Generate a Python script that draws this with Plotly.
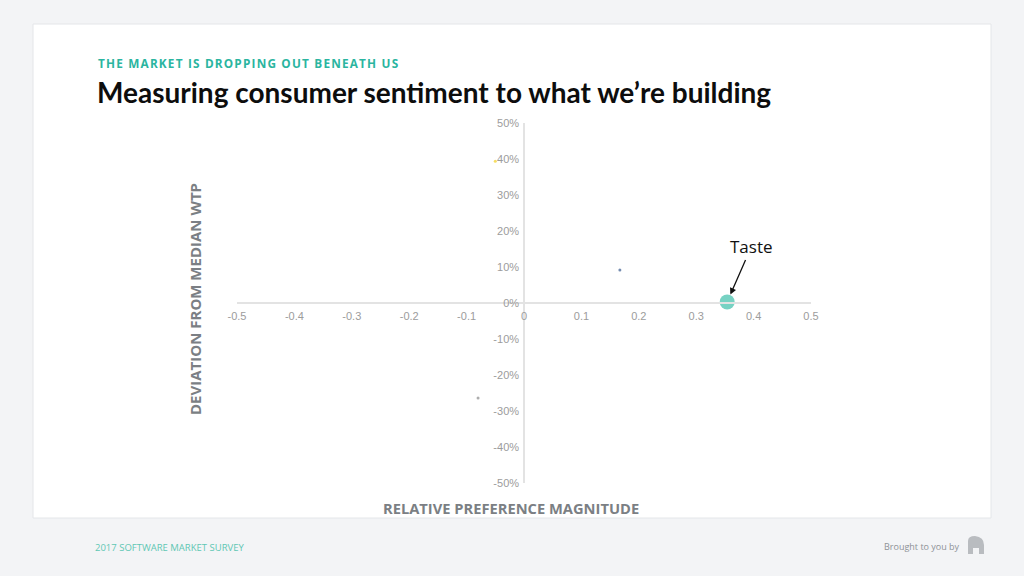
import plotly.graph_objects as go

# ---- data ----
labels = ["", "", "", "Taste"]
x_vals = [-0.05, 0.167, -0.08, 0.354]
y_vals = [0.394, 0.092, -0.264, 0.003]
colors = ["#f2cf1d", "#3b5b8e", "#8a8a8a", "#3dbfa9"]
sizes = [3, 3, 3, 15]

x_ticks = [-0.5, -0.4, -0.3, -0.2, -0.1, 0, 0.1, 0.2, 0.3, 0.4, 0.5]
x_tick_text = ["-0.5", "-0.4", "-0.3", "-0.2", "-0.1", "0", "0.1", "0.2", "0.3", "0.4", "0.5"]
y_ticks = [0.5, 0.4, 0.3, 0.2, 0.1, 0, -0.1, -0.2, -0.3, -0.4, -0.5]
y_tick_text = ["50%", "40%", "30%", "20%", "10%", "0%", "-10%", "-20%", "-30%", "-40%", "-50%"]

W, H = 1024, 576
L, R, T, B = 237, 811, 123, 483


def px(x):
    return (x - L) / (R - L)


def py(y):
    return (B - y) / (B - T)


def spaced(s):
    return "\u200a".join(s)


fig = go.Figure()
fig.add_trace(go.Scatter(
    x=x_vals, y=y_vals, mode="markers",
    marker=dict(color=colors, size=sizes, line=dict(width=0)),
    hoverinfo="skip", showlegend=False,
))

axis_font = dict(family="Liberation Sans, Arial, sans-serif", size=11, color="#9c9c9c")
fig.update_xaxes(
    range=[-0.5, 0.5], tickvals=x_ticks, ticktext=x_tick_text,
    anchor="free", position=0.5, showline=True, linecolor="#e3e3e3", linewidth=1.5,
    showgrid=False, zeroline=False, ticks="", tickfont=axis_font, ticklabelstandoff=3,
)
fig.update_yaxes(
    range=[-0.5, 0.5], tickvals=y_ticks, ticktext=y_tick_text,
    anchor="free", position=0.5, showline=True, linecolor="#e3e3e3", linewidth=1.5,
    showgrid=False, zeroline=False, ticks="", tickfont=axis_font, ticklabelstandoff=2,
)

shapes = [
    dict(type="rect", xref="paper", yref="paper",
         x0=px(33), x1=px(991), y0=py(24), y1=py(518),
         fillcolor="#ffffff", line=dict(color="#e4e6e9", width=1), layer="below"),
    # logo
    dict(type="path", xref="paper", yref="paper",
         path=f"M {px(968)},{py(554)} L {px(968)},{py(541)} Q {px(968)},{py(536)} {px(975)},{py(536)} "
              f"Q {px(984)},{py(537)} {px(984)},{py(545)} L {px(984)},{py(554)} L {px(979)},{py(554)} "
              f"L {px(979)},{py(548)} L {px(973)},{py(548)} L {px(973)},{py(554)} Z",
         fillcolor="#b9bcc0", line=dict(width=0), layer="above"),
]

annotations = [
    dict(x=x_vals[3], y=y_vals[3], xref="x", yref="y", text=labels[3], showarrow=True,
         ax=24, ay=-55, arrowhead=2, arrowsize=1, arrowwidth=1.3, arrowcolor="#111111", standoff=8,
         font=dict(family="Open Sans, sans-serif", size=17, color="#111111")),
    dict(x=px(96), y=py(63), xref="paper", yref="paper", xanchor="left", yanchor="middle",
         text="<b>" + spaced("THE MARKET IS DROPPING OUT BENEATH US") + "</b>",
         showarrow=False, font=dict(family="Open Sans, sans-serif", size=11.8, color="#2bb5a0")),
    dict(x=px(95), y=py(92), xref="paper", yref="paper", xanchor="left", yanchor="middle",
         text="<b>Measuring consumer sentiment to what we’re building</b>",
         showarrow=False, font=dict(family="Lato, sans-serif", size=28, color="#0d0d0d")),
    dict(x=px(511), y=py(508), xref="paper", yref="paper", xanchor="center", yanchor="middle",
         text="<b>RELATIVE PREFERENCE MAGNITUDE</b>", showarrow=False,
         font=dict(family="Open Sans, sans-serif", size=14.7, color="#7b7f84")),
    dict(x=px(195), y=py(299), xref="paper", yref="paper", xanchor="center", yanchor="middle",
         text="<b>DEVIATION FROM MEDIAN WTP</b>", showarrow=False, textangle=-90,
         font=dict(family="Open Sans, sans-serif", size=15, color="#7b7f84")),
    dict(x=px(93), y=py(547), xref="paper", yref="paper", xanchor="left", yanchor="middle",
         text="2017 SOFTWARE MARKET SURVEY", showarrow=False,
         font=dict(family="Open Sans, sans-serif", size=9.5, color="#5fc7b4")),
    dict(x=px(962), y=py(546), xref="paper", yref="paper", xanchor="right", yanchor="middle",
         text="Brought to you by", showarrow=False,
         font=dict(family="Open Sans, sans-serif", size=9, color="#8e9297")),
]

fig.update_layout(
    width=W, height=H,
    margin=dict(l=L, r=W - R, t=T, b=H - B, pad=0),
    paper_bgcolor="#f3f4f6", plot_bgcolor="rgba(0,0,0,0)",
    shapes=shapes, annotations=annotations, showlegend=False,
)

fig.write_html("out.html")
